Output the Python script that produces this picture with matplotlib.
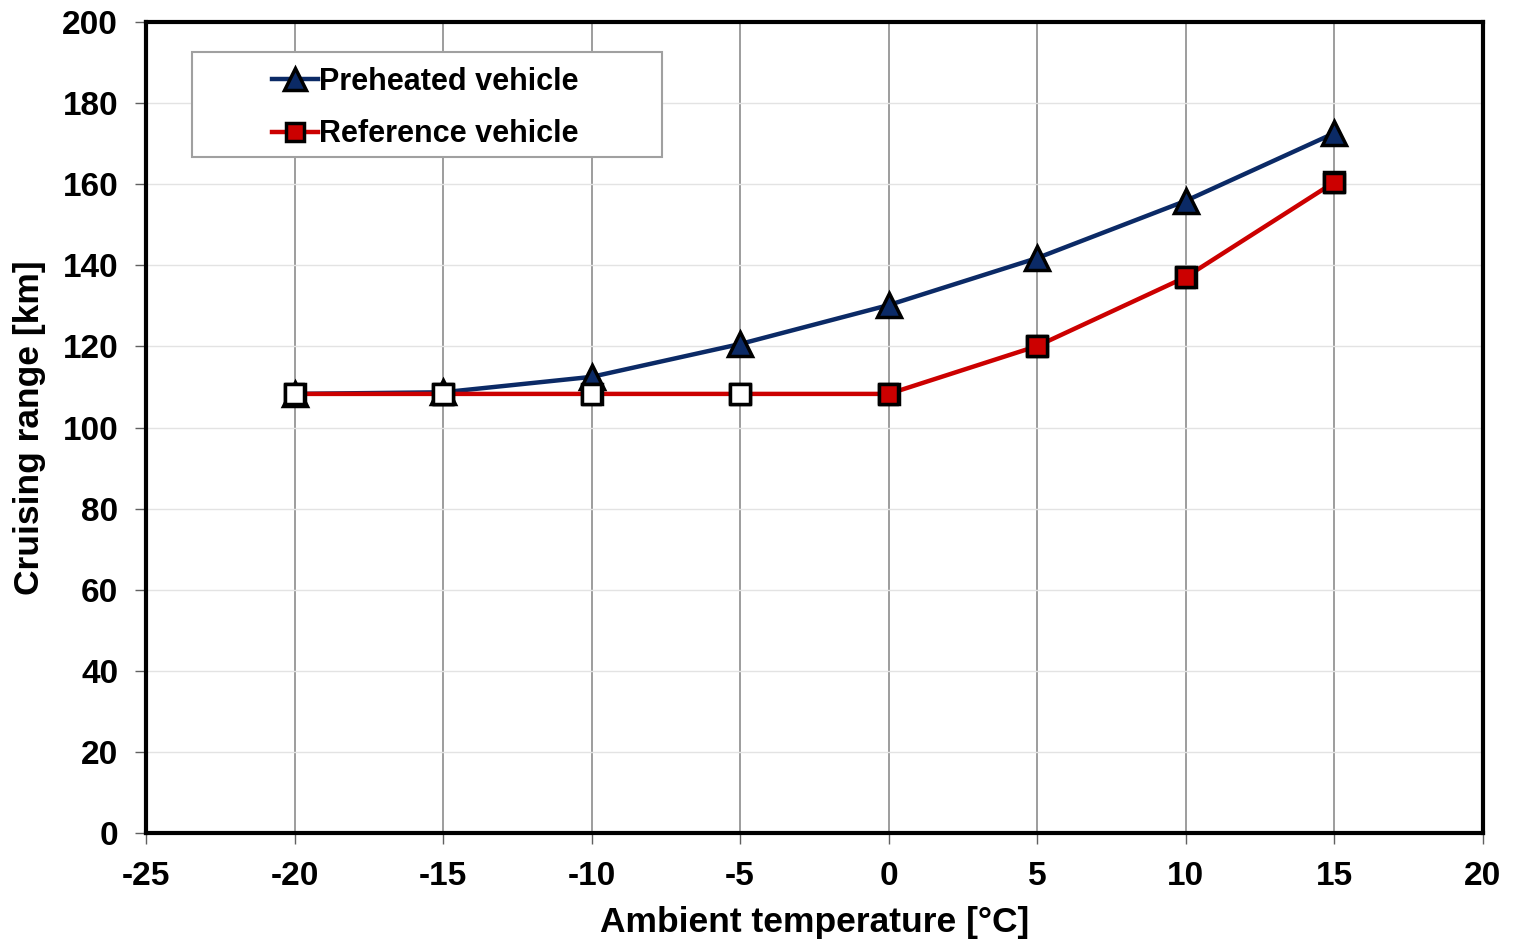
import numpy as np
from matplotlib import pyplot as plt
from matplotlib.patches import Rectangle

# Data
temperature = [-20, -15, -10, -5, 0, 5, 10, 15]
range_preheated = [108.3, 108.7, 112.5, 120.6, 130.2, 141.8, 155.9, 172.6]
range_reference = [108.3, 108.3, 108.3, 108.3, 108.3, 120.1, 137.1, 160.5]
# reference markers are drawn white below 0 degC
reference_face = ['white', 'white', 'white', 'white', '#cc0000', '#cc0000', '#cc0000', '#cc0000']

x_ticks = [-25, -20, -15, -10, -5, 0, 5, 10, 15, 20]
y_ticks = [0, 20, 40, 60, 80, 100, 120, 140, 160, 180, 200]

plt.rcParams['font.family'] = ['Liberation Sans', 'DejaVu Sans']
plt.rcParams['font.weight'] = 'bold'
plt.rcParams['axes.unicode_minus'] = False

fig = plt.figure(figsize=(15.13, 9.43), dpi=100)
ax = fig.add_axes([0.0965, 0.1166, 0.8835, 0.86])

navy = '#0b2a66'
red = '#cc0000'

# Preheated vehicle
ax.plot(temperature, range_preheated, color=navy, linewidth=3.2, marker='^',
        markersize=17, markerfacecolor=navy, markeredgecolor='black',
        markeredgewidth=2.5, label='Preheated vehicle', zorder=3)

# Reference vehicle: line + legend handle, then markers with individual fill
ax.plot(temperature, range_reference, color=red, linewidth=3.2, marker='s',
        markersize=14, markerfacecolor=red, markeredgecolor='black',
        markeredgewidth=2.5, label='Reference vehicle', zorder=4)
ax.scatter(temperature, range_reference, marker='s', s=14 ** 2,
           facecolors=reference_face, edgecolors='black', linewidths=2.5, zorder=5)

ax.set_xlim(-25, 20)
ax.set_ylim(0, 200)
ax.set_xticks(x_ticks)
ax.set_yticks(y_ticks)

ax.xaxis.grid(True, color='#8c8c8c', linewidth=1.2)
ax.yaxis.grid(True, color='#e3e3e3', linewidth=1.0)
ax.set_axisbelow(True)

for side in ['left', 'bottom', 'right', 'top']:
    ax.spines[side].set_linewidth(3)
    ax.spines[side].set_color('black')

ax.tick_params(axis='both', direction='out', length=8, width=1, color='#606060',
               labelsize=24, pad=12)
for lbl in ax.get_xticklabels() + ax.get_yticklabels():
    lbl.set_fontweight('bold')

ax.set_xlabel('Ambient temperature [°C]', fontsize=25.5, fontweight='bold', labelpad=10)
ax.set_ylabel('Cruising range [km]', fontsize=25.5, fontweight='bold', labelpad=12)

# Legend box drawn separately so the entries can sit centred inside it
ax.add_patch(Rectangle((0.0344, 0.8335), 0.3516, 0.1295, transform=ax.transAxes,
                       facecolor='white', edgecolor='#a0a0a0', linewidth=1.5, zorder=6))
leg = ax.legend(loc='center left', bbox_to_anchor=(0.0942, 0.894), fontsize=22,
                frameon=False, handlelength=1.5, handletextpad=0.05, borderpad=0,
                labelspacing=0.75, borderaxespad=0, markerscale=0.9)
leg.set_zorder(7)
for t in leg.get_texts():
    t.set_fontweight('bold')

plt.savefig('out.png', dpi=100)
